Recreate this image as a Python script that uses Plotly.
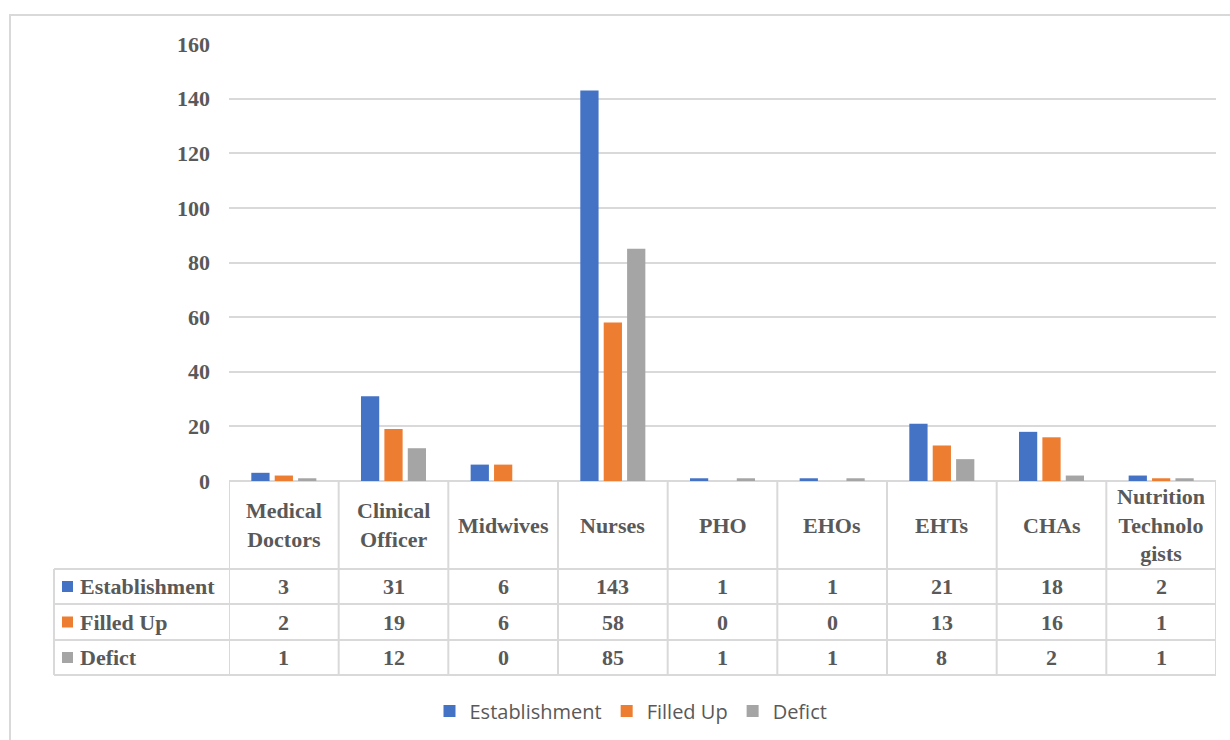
import plotly.graph_objects as go

# Staffing data per cadre
categories = ["Medical<br>Doctors", "Clinical<br>Officer", "Midwives", "Nurses", "PHO",
              "EHOs", "EHTs", "CHAs", "Nutrition<br>Technolo<br>gists"]
series_names = ["Establishment", "Filled Up", "Defict"]
establishment = [3, 31, 6, 143, 1, 1, 21, 18, 2]
filled_up = [2, 19, 6, 58, 0, 0, 13, 16, 1]
defict = [1, 12, 0, 85, 1, 1, 8, 2, 1]
y_ticks = [0, 20, 40, 60, 80, 100, 120, 140, 160]

colors = ["#4472C4", "#ED7D31", "#A5A5A5"]
series_values = [establishment, filled_up, defict]

W, H = 1230, 740
GRID = "#D9D9D9"
TXT = "#595959"
SERIF = "Liberation Serif"
FS = 22


def px(x):
    return x / W


def py(y):
    return 1 - y / H


# plot area in pixels
PL, PR, PT, PB = 229, 1216, 44, 481
# table rows (pixels)
HEAD_BOTTOM = 569
ROW_EDGES = [569, 604, 640, 675]
TABLE_LEFT = 54

x_idx = list(range(len(categories)))

fig = go.Figure()
for name, vals, col in zip(series_names, series_values, colors):
    fig.add_trace(go.Bar(x=x_idx, y=vals, name=name, marker=dict(color=col, line=dict(width=0))))

shapes = []
annotations = []

# chart frame
shapes.append(dict(type="rect", xref="paper", yref="paper", x0=px(10), x1=1.02,
                   y0=-0.05, y1=py(15), line=dict(color=GRID, width=2), layer="below"))

# table top border along the zero line
shapes.append(dict(type="line", xref="x", yref="paper", x0=-0.5, x1=len(categories) - 0.5,
                   y0=py(PB), y1=py(PB), line=dict(color=GRID, width=2), layer="below"))

# vertical cell borders at category boundaries
for i in range(len(categories) + 1):
    shapes.append(dict(type="line", xref="x", yref="paper", x0=i - 0.5, x1=i - 0.5,
                       y0=py(PB), y1=py(ROW_EDGES[-1]), line=dict(color=GRID, width=2)))
# left edge of the row-label column
shapes.append(dict(type="line", xref="paper", yref="paper", x0=px(TABLE_LEFT), x1=px(TABLE_LEFT),
                   y0=py(ROW_EDGES[0]), y1=py(ROW_EDGES[-1]), line=dict(color=GRID, width=2)))
# horizontal row borders
for ye in ROW_EDGES:
    shapes.append(dict(type="line", xref="paper", yref="paper", x0=px(TABLE_LEFT), x1=px(PR),
                       y0=py(ye), y1=py(ye), line=dict(color=GRID, width=2)))

# header labels
for i, cat in enumerate(categories):
    annotations.append(dict(x=i, y=py((PB + HEAD_BOTTOM) / 2), xref="x", yref="paper",
                            text="<b>%s</b>" % cat, showarrow=False, xanchor="center",
                            yanchor="middle", align="center",
                            font=dict(family=SERIF, size=FS, color=TXT)))

# data rows
for r, (name, vals, col) in enumerate(zip(series_names, series_values, colors)):
    yc = (ROW_EDGES[r] + ROW_EDGES[r + 1]) / 2
    shapes.append(dict(type="rect", xref="paper", yref="paper", x0=px(62), x1=px(73),
                       y0=py(yc + 5.5), y1=py(yc - 5.5), fillcolor=col, line=dict(width=0)))
    annotations.append(dict(x=px(78), y=py(yc), xref="paper", yref="paper",
                            text="<b>%s</b>" % name, showarrow=False, xanchor="left",
                            yanchor="middle", font=dict(family=SERIF, size=FS, color=TXT)))
    for i, v in enumerate(vals):
        annotations.append(dict(x=i, y=py(yc), xref="x", yref="paper", text="<b>%d</b>" % v,
                                showarrow=False, xanchor="center", yanchor="middle",
                                font=dict(family=SERIF, size=FS, color=TXT)))

fig.update_layout(
    width=W, height=H,
    margin=dict(l=0, r=0, t=0, b=0, autoexpand=False),
    paper_bgcolor="white", plot_bgcolor="white",
    barmode="group", bargap=0.36, bargroupgap=0.22,
    xaxis=dict(domain=[px(PL), px(PR)], range=[-0.5, len(categories) - 0.5],
               showticklabels=False, showgrid=False, zeroline=False, showline=False,
               automargin=False, fixedrange=True),
    yaxis=dict(domain=[py(PB), py(PT)], range=[0, 160], tickvals=y_ticks,
               ticktext=["<b>%d</b>" % t for t in y_ticks],
               showgrid=True, gridcolor=GRID, gridwidth=1.5, zeroline=False, showline=False,
               ticks="", ticklabelstandoff=18, automargin=False,
               tickfont=dict(family=SERIF, size=FS, color=TXT)),
    showlegend=True,
    legend=dict(orientation="h", x=px(631), xanchor="center", y=py(711), yanchor="middle",
                font=dict(family="Open Sans", size=20, color=TXT), itemwidth=30,
                bgcolor="rgba(0,0,0,0)"),
    shapes=shapes,
    annotations=annotations,
)

fig.write_html("out.html")
